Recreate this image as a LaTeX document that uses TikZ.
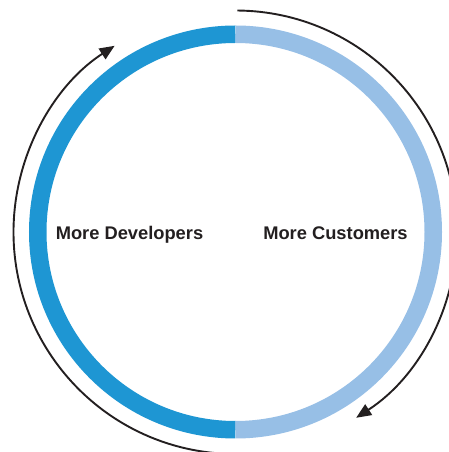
\documentclass[tikz,border=0pt]{standalone}
\usepackage{fontspec}
\setmainfont{Liberation Sans}
\usetikzlibrary{arrows.meta}
\definecolor{darkblue}{RGB}{30,150,211}
\definecolor{lightblue}{RGB}{151,191,230}
\definecolor{ink}{RGB}{35,31,32}
\tikzset{
  ringpart/.style={line width=17.5pt},
  cyclearrow/.style={draw=ink, line width=1.9pt, -{Triangle[length=15pt,width=12.5pt]}},
  label/.style={font=\bfseries\fontsize{18.3}{20}\selectfont, text=ink, inner sep=0pt, anchor=base}
}
\begin{document}
\begin{tikzpicture}[x=1pt,y=1pt]
\path[use as bounding box] (0,0) rectangle (449,452);
\clip (0,0) rectangle (449,452);
\coordinate (c) at (235.5,220);
% ring
\draw[ringpart, darkblue] (c) ++(90:197.75) arc[start angle=90, end angle=270, radius=197.75];
\draw[ringpart, lightblue] (c) ++(-90:197.75) arc[start angle=-90, end angle=90, radius=197.75];
% cycle arrows
\draw[cyclearrow] (c) ++(89.5:221.5) arc[start angle=89.5, end angle=-57, radius=221.5];
\draw[cyclearrow] (c) ++(266:222) arc[start angle=266, end angle=123, radius=222];
% labels
\node[label] (dev) at (129.5,212.7) {More Developers};
\node[label] (cust) at (335.5,212.7) {More Customers};
\end{tikzpicture}
\end{document}
